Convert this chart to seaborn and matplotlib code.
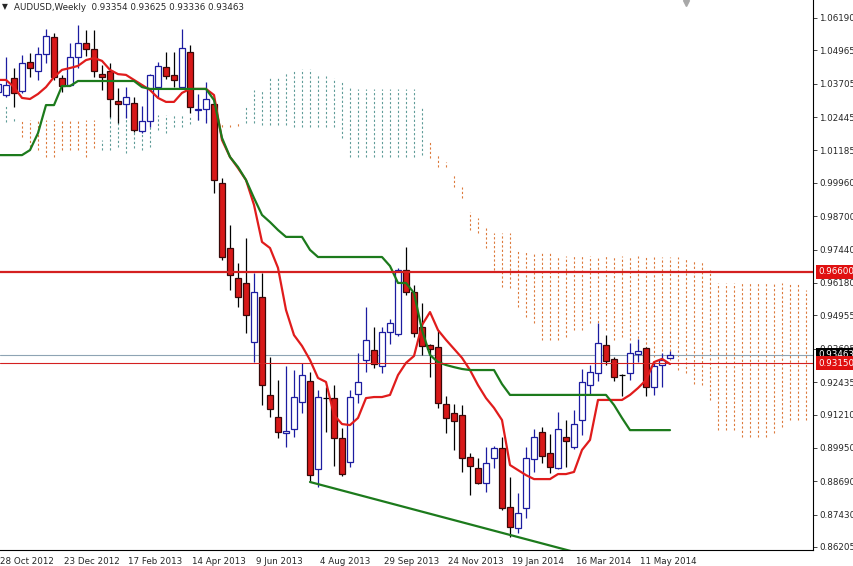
import matplotlib
matplotlib.use("Agg")
import matplotlib.pyplot as plt
import matplotlib.transforms as mtransforms
import numpy as np
import seaborn as sns

# --- AUDUSD weekly candles, bar 0 = week of 28 Oct 2012 ---
opens = [1.0339, 1.0328, 1.0392, 1.0343, 1.0453, 1.0419, 1.0483, 1.0547, 1.0392, 1.0366,
         1.0472, 1.0525, 1.0502, 1.0407, 1.0419, 1.0305, 1.0294, 1.0298, 1.0192, 1.0230,
         1.0358, 1.0434, 1.0404, 1.0358, 1.0491, 1.0271, 1.0275, 1.0294, 0.9996, 0.9750,
         0.9637, 0.9618, 0.9395, 0.9565, 0.9195, 0.9112, 0.9051, 0.9066, 0.9168, 0.9248,
         0.8915, 0.9183, 0.9183, 0.9032, 0.8942, 0.9199, 0.9327, 0.9365, 0.9304, 0.9433,
         0.9425, 0.9667, 0.9584, 0.9452, 0.9384, 0.9376, 0.9161, 0.9127, 0.9119, 0.8960,
         0.8919, 0.8862, 0.8957, 0.8994, 0.8772, 0.8692, 0.8768, 0.8953, 0.9055, 0.8976,
         0.8919, 0.9036, 0.8998, 0.9100, 0.9232, 0.9278, 0.9384, 0.9331, 0.9270, 0.9278,
         0.9350, 0.9372, 0.9225, 0.9308, 0.93354]
highs = [1.0392, 1.0472, 1.0430, 1.0479, 1.0487, 1.0509, 1.0577, 1.0562, 1.0404, 1.0525,
         1.0593, 1.0574, 1.0574, 1.0441, 1.0449, 1.0355, 1.0358, 1.0321, 1.0287, 1.0407,
         1.0453, 1.0491, 1.0491, 1.0577, 1.0517, 1.0332, 1.0377, 1.0309, 1.0015, 0.9837,
         0.9693, 0.9788, 0.9656, 0.9656, 0.9338, 0.9251, 0.9304, 0.9289, 0.9316, 0.9282,
         0.9214, 0.9225, 0.9232, 0.9070, 0.9214, 0.9353, 0.9527, 0.9452, 0.9452, 0.9482,
         0.9675, 0.9754, 0.9610, 0.9542, 0.9387, 0.9440, 0.9191, 0.9161, 0.9157, 0.8976,
         0.8957, 0.8998, 0.9002, 0.9036, 0.8885, 0.8824, 0.8998, 0.9066, 0.9074, 0.9047,
         0.9131, 0.9100, 0.9138, 0.9293, 0.9308, 0.9467, 0.9421, 0.9338, 0.9274, 0.9391,
         0.9406, 0.9376, 0.9319, 0.9353, 0.93625]
lows = [1.0317, 1.0321, 1.0283, 1.0336, 1.0396, 1.0385, 1.0449, 1.0385, 1.0339, 1.0362,
        1.0430, 1.0475, 1.0396, 1.0347, 1.0245, 1.0222, 1.0241, 1.0188, 1.0185, 1.0207,
        1.0321, 1.0389, 1.0358, 1.0355, 1.0260, 1.0234, 1.0222, 0.9958, 0.9705, 0.9591,
        0.9527, 0.9429, 0.9319, 0.9157, 0.9112, 0.9032, 0.8998, 0.9036, 0.9127, 0.8866,
        0.8847, 0.9055, 0.8927, 0.8889, 0.8923, 0.9164, 0.9282, 0.9297, 0.9278, 0.9387,
        0.9418, 0.9572, 0.9414, 0.9346, 0.9263, 0.9146, 0.9051, 0.8987, 0.8904, 0.8817,
        0.8858, 0.8828, 0.8919, 0.8760, 0.8658, 0.8673, 0.8730, 0.8904, 0.8938, 0.8900,
        0.8915, 0.8923, 0.8991, 0.9044, 0.9195, 0.9248, 0.9308, 0.9248, 0.9191, 0.9251,
        0.9319, 0.9191, 0.9195, 0.9225, 0.93336]
closes = [1.0370, 1.0366, 1.0336, 1.0449, 1.0430, 1.0483, 1.0551, 1.0396, 1.0362, 1.0472,
          1.0525, 1.0502, 1.0419, 1.0396, 1.0313, 1.0294, 1.0321, 1.0196, 1.0230, 1.0404,
          1.0438, 1.0400, 1.0385, 1.0506, 1.0283, 1.0275, 1.0313, 1.0007, 0.9716, 0.9648,
          0.9565, 0.9497, 0.9584, 0.9232, 0.9142, 0.9055, 0.9059, 0.9187, 0.9270, 0.8892,
          0.9187, 0.9183, 0.9032, 0.8896, 0.9187, 0.9244, 0.9403, 0.9312, 0.9433, 0.9467,
          0.9667, 0.9584, 0.9429, 0.9380, 0.9369, 0.9164, 0.9108, 0.9096, 0.8957, 0.8927,
          0.8862, 0.8938, 0.8994, 0.8768, 0.8696, 0.8749, 0.8957, 0.9036, 0.8964, 0.8923,
          0.9066, 0.9021, 0.9085, 0.9244, 0.9282, 0.9391, 0.9323, 0.9263, 0.9270, 0.9353,
          0.9361, 0.9225, 0.9304, 0.9327, 0.93463]

# Ichimoku: tenkan (red), kijun (green)
tenkan = [1.0385, 1.0385, 1.0358, 1.0317, 1.0313, 1.0332, 1.0358, 1.0396, 1.0423, 1.0430,
          1.0438, 1.0460, 1.0468, 1.0457, 1.0423, 1.0407, 1.0404, 1.0385, 1.0366, 1.0347,
          1.0317, 1.0302, 1.0302, 1.0336, 1.0351, 1.0351, 1.0351, 1.0328, 1.0158, 1.0094,
          1.0052, 1.0007, 0.9913, 0.9773, 0.9750, 0.9675, 0.9516, 0.9421, 0.9380, 0.9327,
          0.9259, 0.9244, 0.9119, 0.9085, 0.9081, 0.9108, 0.9183, 0.9187, 0.9187, 0.9195,
          0.9270, 0.9316, 0.9342, 0.9459, 0.9508, 0.9440, 0.9403, 0.9369, 0.9335, 0.9289,
          0.9232, 0.9183, 0.9146, 0.9100, 0.8930, 0.8911, 0.8892, 0.8877, 0.8877, 0.8877,
          0.8896, 0.8896, 0.8904, 0.8987, 0.9025, 0.9176, 0.9176, 0.9176, 0.9176, 0.9195,
          0.9221, 0.9251, 0.9319, 0.9331, 0.9312]
kijun = [1.0101, 1.0101, 1.0101, 1.0101, 1.0120, 1.0184, 1.0290, 1.0290, 1.0362, 1.0362,
         1.0381, 1.0381, 1.0381, 1.0381, 1.0381, 1.0381, 1.0381, 1.0381, 1.0358, 1.0351,
         1.0351, 1.0351, 1.0351, 1.0351, 1.0351, 1.0351, 1.0351, 1.0309, 1.0166, 1.0094,
         1.0056, 1.0007, 0.9939, 0.9875, 0.9848, 0.9818, 0.9792, 0.9792, 0.9792, 0.9743,
         0.9716, 0.9716, 0.9716, 0.9716, 0.9716, 0.9716, 0.9716, 0.9716, 0.9716, 0.9682,
         0.9618, 0.9618, 0.9580, 0.9440, 0.9346, 0.9319, 0.9308, 0.9300, 0.9293, 0.9289,
         0.9289, 0.9289, 0.9289, 0.9236, 0.9195, 0.9195, 0.9195, 0.9195, 0.9195, 0.9195,
         0.9195, 0.9195, 0.9195, 0.9195, 0.9195, 0.9195, 0.9195, 0.9157, 0.9108, 0.9062,
         0.9062, 0.9062, 0.9062, 0.9062, 0.9062]

# cloud spans (already shifted forward, visible part only)
senkou_a = [1.0309, 1.0290, 1.0241, 1.0169, 1.0132, 1.0120, 1.0094, 1.0094, 1.0120, 1.0120,
            1.0120, 1.0094, 1.0128, 1.0158, 1.0253, 1.0253, 1.0253, 1.0241, 1.0215, 1.0253,
            1.0253, 1.0253, 1.0253, 1.0253, 1.0253, 1.0253, 1.0249, 1.0241, 1.0207, 1.0207,
            1.0211, 1.0283, 1.0347, 1.0347, 1.0396, 1.0396, 1.0411, 1.0423, 1.0426, 1.0426,
            1.0404, 1.0400, 1.0392, 1.0377, 1.0358, 1.0351, 1.0351, 1.0351, 1.0351, 1.0351,
            1.0351, 1.0351, 1.0351, 1.0283, 1.0090, 1.0056, 1.0056, 0.9981, 0.9939, 0.9818,
            0.9807, 0.9750, 0.9667, 0.9603, 0.9599, 0.9527, 0.9489, 0.9467, 0.9403, 0.9403,
            0.9403, 0.9414, 0.9440, 0.9440, 0.9467, 0.9452, 0.9440, 0.9403, 0.9414, 0.9403,
            0.9376, 0.9353, 0.9338, 0.9327, 0.9327, 0.9289, 0.9278, 0.9236, 0.9232, 0.9176,
            0.9062, 0.9062, 0.9062, 0.9036, 0.9036, 0.9036, 0.9036, 0.9051, 0.9074, 0.9100,
            0.9100, 0.9100]
senkou_b = [1.0226, 1.0226, 1.0230, 1.0234, 1.0234, 1.0234, 1.0234, 1.0234, 1.0234, 1.0234,
            1.0234, 1.0234, 1.0234, 1.0120, 1.0120, 1.0132, 1.0109, 1.0128, 1.0120, 1.0132,
            1.0196, 1.0185, 1.0207, 1.0207, 1.0219, 1.0234, 1.0234, 1.0230, 1.0222, 1.0215,
            1.0222, 1.0222, 1.0222, 1.0215, 1.0215, 1.0215, 1.0215, 1.0207, 1.0207, 1.0207,
            1.0207, 1.0207, 1.0207, 1.0166, 1.0094, 1.0094, 1.0094, 1.0094, 1.0094, 1.0094,
            1.0094, 1.0094, 1.0094, 1.0101, 1.0151, 1.0101, 1.0075, 1.0026, 0.9981, 0.9886,
            0.9863, 0.9826, 0.9807, 0.9807, 0.9807, 0.9743, 0.9735, 0.9731, 0.9731, 0.9731,
            0.9720, 0.9720, 0.9720, 0.9720, 0.9720, 0.9720, 0.9720, 0.9720, 0.9720, 0.9720,
            0.9720, 0.9720, 0.9716, 0.9716, 0.9716, 0.9716, 0.9712, 0.9705, 0.9697, 0.9667,
            0.9618, 0.9618, 0.9618, 0.9618, 0.9618, 0.9618, 0.9618, 0.9618, 0.9618, 0.9618,
            0.9618, 0.9591]

# support trendline anchors (two weekly lows)
trend_bars = [39, 64]
trend_prices = [0.8866, 0.8666]

level_res = 0.96600
level_sup = 0.93150

date_ticks = [0, 8, 16, 24, 32, 40, 48, 56, 64, 72, 80]
date_labels = ["28 Oct 2012", "23 Dec 2012", "17 Feb 2013", "14 Apr 2013", "9 Jun 2013",
               "4 Aug 2013", "29 Sep 2013", "24 Nov 2013", "19 Jan 2014", "16 Mar 2014",
               "11 May 2014"]
price_ticks = [1.06190, 1.04965, 1.03705, 1.02445, 1.01185, 0.99960, 0.98700, 0.97440,
               0.96180, 0.94955, 0.93695, 0.92435, 0.91210, 0.89950, 0.88690, 0.87430,
               0.86205]

sns.set_style("white")
plt.rcParams['font.family'] = ['DejaVu Sans']
FS = 6.3

fig = plt.figure(figsize=(8.54, 5.66), dpi=100)
ax = fig.add_axes([0, 16 / 566, 813 / 854, 550 / 566])

# cloud drawn as dotted vertical strokes
cx = np.arange(len(senkou_a))
sa = np.array(senkou_a)
sb = np.array(senkou_b)
up = sa >= sb
ax.vlines(cx[up], sb[up], sa[up], colors='#5f9c98', linewidth=0.8,
          linestyles=[(0, (2, 2))], zorder=1)
ax.vlines(cx[~up], sa[~up], sb[~up], colors='#dc7a3c', linewidth=0.8,
          linestyles=[(0, (2, 2))], zorder=1)

# candles
bars = np.arange(len(opens))
o = np.array(opens)
h = np.array(highs)
l = np.array(lows)
c = np.array(closes)
bull = c > o
bear = c < o
doji = c == o
wick_col = np.where(bull, '#1c1ca0', 'black')
ax.vlines(bars, l, h, colors=wick_col, linewidth=0.9, zorder=3)
ax.bar(bars[bull], (c - o)[bull], bottom=o[bull], width=0.7, color='white',
       edgecolor='#1c1ca0', linewidth=0.9, zorder=4)
ax.bar(bars[bear], (o - c)[bear], bottom=c[bear], width=0.7, color='#d81818',
       edgecolor='#3a0808', linewidth=0.9, zorder=4)
ax.hlines(c[doji], bars[doji] - 0.35, bars[doji] + 0.35, colors='black', linewidth=0.9, zorder=4)

# ichimoku lines
sns.lineplot(x=bars, y=tenkan, ax=ax, color='#e01c1c', linewidth=1.6, zorder=5)
sns.lineplot(x=bars, y=kijun, ax=ax, color='#1c7a1c', linewidth=1.6, zorder=5)

# trendline as a ray to the right
slope = (trend_prices[1] - trend_prices[0]) / (trend_bars[1] - trend_bars[0])
ray_x = [trend_bars[0], 80]
ray_y = [trend_prices[0], trend_prices[0] + slope * (80 - trend_bars[0])]
sns.lineplot(x=ray_x, y=ray_y, ax=ax, color='#1c7a1c', linewidth=1.6, zorder=5)

# horizontal levels and bid line
ax.axhline(level_res, color='#d42020', linewidth=1.6, zorder=6)
ax.axhline(level_sup, color='#d42020', linewidth=0.8, zorder=6)
ax.axhline(closes[-1], color='#8ea4b4', linewidth=0.8, zorder=2)

ax.set_xlim(0.25, 101.875)
ax.set_ylim(0.86091, 1.0687)
ax.set_xlabel('')
ax.set_ylabel('')

# axes / ticks
for s in ['left', 'top']:
    ax.spines[s].set_visible(False)
for s in ['right', 'bottom']:
    ax.spines[s].set_color('black')
    ax.spines[s].set_linewidth(0.8)

ax.yaxis.tick_right()
ax.set_yticks(price_ticks)
ax.set_yticklabels([f"{p:.5f}" for p in price_ticks])
ax.tick_params(axis='y', length=3, width=0.6, pad=1.5, labelsize=FS, direction='out')

ax.set_xticks(date_ticks[1:])
ax.set_xticklabels(date_labels[1:], ha='left')
ax.tick_params(axis='x', length=3, width=0.6, pad=2, labelsize=FS, direction='out')
shift = mtransforms.ScaledTranslation(2 / 100, 0, fig.dpi_scale_trans)
for lab in ax.get_xticklabels():
    lab.set_transform(lab.get_transform() + shift)
ax.text(0, -0.012, date_labels[0], transform=ax.transAxes, fontsize=FS,
        ha='left', va='top')

# price tags on the right scale
yt = mtransforms.blended_transform_factory(ax.transAxes, ax.transData)
for val, bg in [(level_res, '#e01010'), (closes[-1], 'black'), (level_sup, '#e01010')]:
    ax.text(1.006, val, f"{val:.5f}", transform=yt, fontsize=FS, color='white',
            ha='left', va='center', clip_on=False, zorder=10,
            bbox=dict(boxstyle='square,pad=0.25', fc=bg, ec='none'))

# header
fig.text(2 / 854, 1 - 7 / 566, "\u25bc", fontsize=5.5, ha='left', va='center')
fig.text(14 / 854, 1 - 7 / 566,
         f"AUDUSD,Weekly  {opens[-1]:.5f} {highs[-1]:.5f} {lows[-1]:.5f} {closes[-1]:.5f}",
         fontsize=FS, ha='left', va='center')
ax.plot([86], [1.0676], marker='v', markersize=5, color='#a8a8a8', clip_on=False, zorder=10)

fig.savefig("out.png", dpi=100)
